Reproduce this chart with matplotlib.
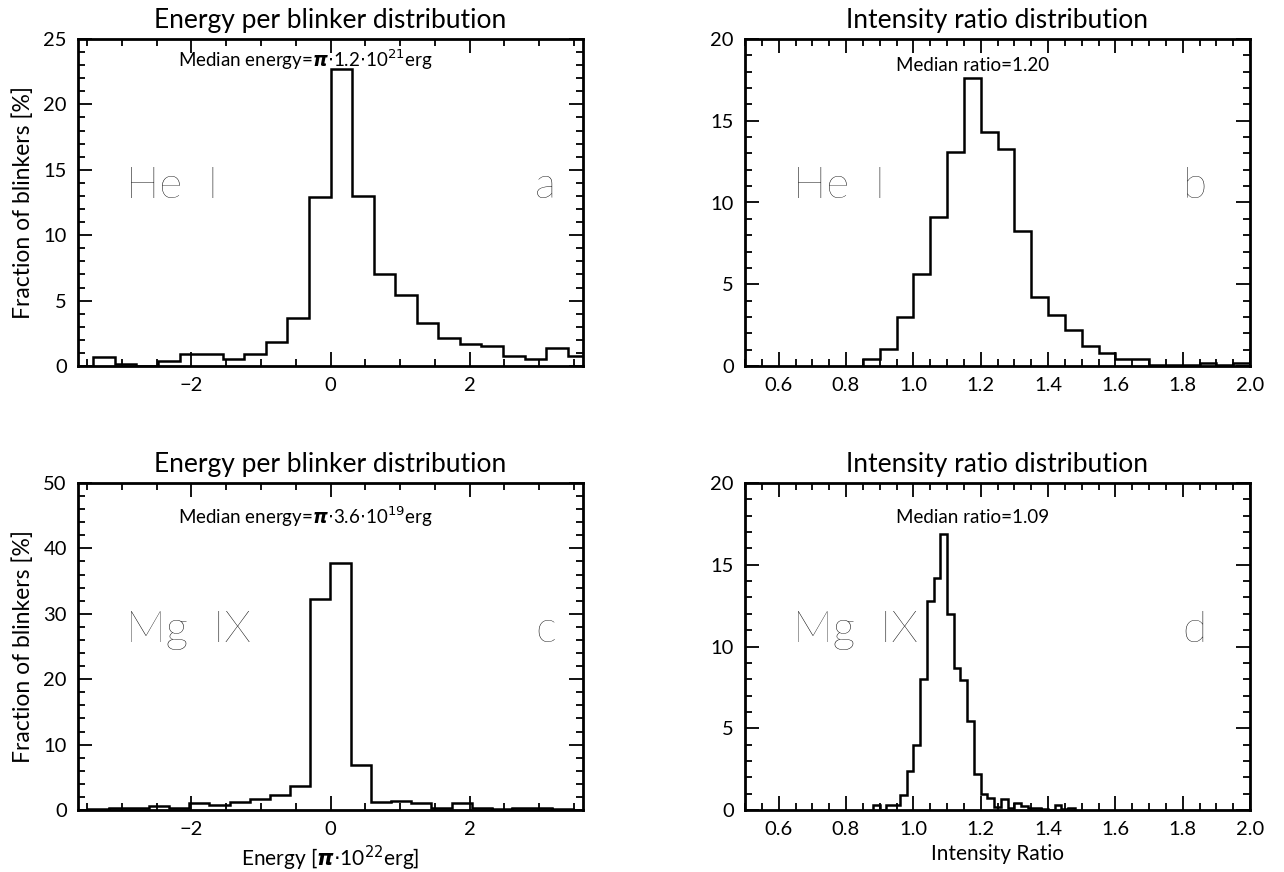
import numpy as np
import matplotlib.pyplot as plt
from matplotlib.ticker import MultipleLocator

plt.rcParams['font.family'] = ['Lato', 'DejaVu Sans']
plt.rcParams['mathtext.fontset'] = 'dejavusans'

# a: He I energy per blinker [pi*1e22 erg], percent per bin
he_energy_start = -3.41
he_energy_width = 0.31
he_energy_pct = [0.65, 0.15, 0.0, 0.38, 0.94, 0.94, 0.51, 0.94, 1.8, 3.7,
                 12.9, 22.7, 13.0, 7.0, 5.4, 3.3, 2.17, 1.71, 1.56, 0.79,
                 0.51, 1.38, 0.74]

# b: He I intensity ratio
he_ratio_start = 0.85
he_ratio_width = 0.05
he_ratio_pct = [0.45, 1.05, 3.0, 5.6, 9.1, 13.1, 17.6, 14.3, 13.3, 8.25,
                4.2, 3.1, 2.2, 1.24, 0.8, 0.41, 0.41, 0.08, 0.08, 0.08,
                0.16, 0.08, 0.16]

# c: Mg IX energy per blinker
mg_energy_start = -3.48
mg_energy_width = 0.29
mg_energy_pct = [0.1, 0.36, 0.36, 0.66, 0.36, 1.02, 0.76, 1.17, 1.63, 2.3,
                 3.7, 32.2, 37.8, 6.9, 1.27, 1.43, 1.02, 0.25, 1.02, 0.25,
                 0.15, 0.25, 0.25, 0.1]

# d: Mg IX intensity ratio
mg_ratio_start = 0.88
mg_ratio_width = 0.02
mg_ratio_pct = [0.3, 0.0, 0.3, 0.3, 0.9, 2.4, 4.0, 8.0, 12.8, 14.2,
                16.9, 12.0, 8.66, 7.95, 5.45, 2.2, 1.0, 0.75, 0.2, 0.65,
                0.15, 0.4, 0.25, 0.1, 0.1, 0.05, 0.0, 0.3, 0.05, 0.15]

panels = [
    dict(start=he_energy_start, width=he_energy_width, vals=he_energy_pct,
         xlim=(-3.63, 3.63), ylim=(0, 25), xmaj=2, xmin=0.5, ymaj=5, ymin=1,
         title='Energy per blinker distribution', ion='He  I', tag='a', tagx=0.925,
         med=r'Median energy=$\boldsymbol{\pi}$$\cdot$1.2$\cdot$10$^{21}$erg', medy=0.936,
         pos=[78, 39], ylabel=True, xlabel=None),
    dict(start=he_ratio_start, width=he_ratio_width, vals=he_ratio_pct,
         xlim=(0.5, 2.0), ylim=(0, 20), xmaj=0.2, xmin=0.05, ymaj=5, ymin=1,
         title='Intensity ratio distribution', ion='He  I', tag='b', tagx=0.89,
         med='Median ratio=1.20', medy=0.92,
         pos=[745, 39], ylabel=False, xlabel=None),
    dict(start=mg_energy_start, width=mg_energy_width, vals=mg_energy_pct,
         xlim=(-3.63, 3.63), ylim=(0, 50), xmaj=2, xmin=0.5, ymaj=10, ymin=2,
         title='Energy per blinker distribution', ion='Mg  IX', tag='c', tagx=0.925,
         med=r'Median energy=$\boldsymbol{\pi}$$\cdot$3.6$\cdot$10$^{19}$erg', medy=0.896,
         pos=[78, 483], ylabel=True,
         xlabel=r'Energy [$\boldsymbol{\pi}$$\cdot$10$^{22}$erg]'),
    dict(start=mg_ratio_start, width=mg_ratio_width, vals=mg_ratio_pct,
         xlim=(0.5, 2.0), ylim=(0, 20), xmaj=0.2, xmin=0.05, ymaj=5, ymin=1,
         title='Intensity ratio distribution', ion='Mg  IX', tag='d', tagx=0.89,
         med='Median ratio=1.09', medy=0.896,
         pos=[745, 483], ylabel=False, xlabel='Intensity Ratio'),
]

W, H = 1284, 872
fig = plt.figure(figsize=(W / 100, H / 100), dpi=100)

for p in panels:
    left, top = p['pos']
    ax = fig.add_axes([left / W, 1 - (top + 327) / H, 505 / W, 327 / H])
    vals = np.array(p['vals'])
    edges = p['start'] + p['width'] * np.arange(len(vals) + 1)
    ax.stairs(vals, edges, baseline=0, color='black', linewidth=1.8)
    ax.set_xlim(*p['xlim'])
    ax.set_ylim(*p['ylim'])
    ax.xaxis.set_major_locator(MultipleLocator(p['xmaj']))
    ax.xaxis.set_minor_locator(MultipleLocator(p['xmin']))
    ax.yaxis.set_major_locator(MultipleLocator(p['ymaj']))
    ax.yaxis.set_minor_locator(MultipleLocator(p['ymin']))
    if p['xmaj'] < 1:
        ax.xaxis.set_major_formatter(plt.FormatStrFormatter('%.1f'))
    ax.tick_params(which='both', direction='in', top=True, right=True,
                   width=1.3, labelsize=14.5, pad=8)
    ax.tick_params(which='major', length=10)
    ax.tick_params(which='minor', length=5)
    for s in ax.spines.values():
        s.set_linewidth(2)
    ax.set_title(p['title'], fontsize=19, pad=8)
    ax.text(0.45, p['medy'], p['med'], transform=ax.transAxes,
            ha='center', va='center', fontsize=13.5)
    ax.text(0.095, 0.55, p['ion'], transform=ax.transAxes, ha='left',
            va='center', fontsize=32, fontweight='light')
    ax.text(p['tagx'], 0.55, p['tag'], transform=ax.transAxes, ha='center',
            va='center', fontsize=32, fontweight='light')
    if p['ylabel']:
        ax.set_ylabel('Fraction of blinkers [%]', fontsize=16.5, labelpad=7)
    if p['xlabel']:
        ax.set_xlabel(p['xlabel'], fontsize=15, labelpad=4)

fig.savefig('out.png', dpi=100)
